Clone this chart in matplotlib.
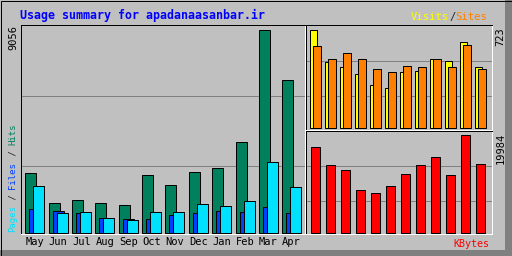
import matplotlib
matplotlib.use("Agg")
import matplotlib.pyplot as plt
from matplotlib.patches import Rectangle
import numpy as np

months = ["May", "Jun", "Jul", "Aug", "Sep", "Oct", "Nov", "Dec", "Jan", "Feb", "Mar", "Apr"]
hits = [2676, 1307, 1472, 1338, 1249, 2587, 2110, 2721, 2899, 4015, 9056, 6825]
files = [1039, 950, 861, 638, 593, 593, 772, 861, 950, 906, 1128, 861]
pages = [2065, 861, 906, 638, 549, 906, 906, 1262, 1173, 1396, 3136, 2021]
visits = [723, 480, 450, 398, 317, 295, 413, 420, 502, 494, 634, 450]
sites = [598, 509, 553, 509, 435, 413, 457, 443, 509, 450, 612, 435]
kbytes = [17401, 13866, 12643, 8565, 7953, 9584, 12031, 13866, 15362, 11827, 19984, 14070]

W, H = 512, 256
BG = "#c0c0c0"
C_HITS, C_FILES, C_PAGES = "#00805c", "#0040ff", "#00e0ff"
C_VISITS, C_SITES, C_KB = "#ffff00", "#ff8000", "#ff0000"
GRID = "#808080"
PX = 0.72  # one pixel in points
MONO = "DejaVu Sans Mono"

fig = plt.figure(figsize=(W / 100, H / 100), dpi=100, facecolor=BG)


def fx(x):
    return x / W


def fy(y):
    return 1 - y / H


def panel(x0, y0, x1, y1):
    ax = fig.add_axes([fx(x0), fy(y1), fx(x1) - fx(x0), (y1 - y0) / H])
    ax.set_facecolor(BG)
    ax.spines["left"].set_color("black")
    ax.spines["top"].set_color("black")
    ax.spines["right"].set_color("white")
    ax.spines["bottom"].set_color("white")
    for s in ax.spines.values():
        s.set_linewidth(PX)
    ax.tick_params(length=0, labelleft=False, labelbottom=False)
    return ax


def scale_y(ax, top, bottom, base, peak_px, peak_val, grid_px):
    # map pixel layout to data units
    s = peak_val / (base - peak_px)
    ax.set_ylim(-(bottom - base) * s, (base - top) * s)
    ax.set_yticks([(base - g) * s for g in grid_px])
    ax.yaxis.grid(True, color=GRID, lw=PX)
    ax.set_axisbelow(True)


def seg_text(x, y, parts, fs, vertical=False):
    # multi-coloured monospace label, one text per coloured piece
    cw = 0.602 * fs * 100 / 72
    pos = 0
    for sub, col in parts:
        if vertical:
            fig.text(fx(x), fy(y - pos * cw), sub, family=MONO, fontsize=fs, color=col,
                     rotation=90, rotation_mode="anchor", va="center", ha="left")
        else:
            fig.text(fx(x + pos * cw), fy(y), sub, family=MONO, fontsize=fs, color=col,
                     va="center", ha="left")
        pos += len(sub)


idx = np.arange(len(months))

# left panel: hits / files / pages
SP = 23.36
axl = panel(20.5, 24.5, 304.5, 233.5)
axl.set_xlim(-4.8 / SP, 284 / SP - 4.8 / SP)
bw = 11 / SP
kw = dict(align="edge", edgecolor="black", linewidth=PX)
axl.bar(idx, hits, bw, color=C_HITS, **kw)
axl.bar(idx + 4 / SP, files, bw, color=C_FILES, **kw)
axl.bar(idx + 8 / SP, pages, bw, color=C_PAGES, **kw)
scale_y(axl, 24.5, 233.5, 232.5, 29.5, max(hits), [95.5, 165.5])
axl.set_xticks(idx + 9.4 / SP)
axl.set_xticklabels(months, family=MONO, fontsize=7.5)
axl.tick_params(labelbottom=True, pad=2.5)

# top right: visits / sites
axv = panel(305.5, 24.5, 491.5, 129.5)
axv.set_xlim(-4.0 / 15, 186 / 15 - 4.0 / 15)
axv.bar(idx, visits, 7.5 / 15, color=C_VISITS, **kw)
axv.bar(idx + 3.5 / 15, sites, 8 / 15, color=C_SITES, **kw)
scale_y(axv, 24.5, 129.5, 127.5, 29.5, max(visits), [60.5, 95.5])

# bottom right: kbytes
axk = panel(305.5, 130.5, 491.5, 233.5)
axk.set_xlim(-4.0 / 15, 186 / 15 - 4.0 / 15)
axk.bar(idx + 1 / 15, kbytes, 9.5 / 15, color=C_KB, **kw)
scale_y(axk, 130.5, 233.5, 232.5, 134.5, max(kbytes), [165.5, 200.5])

# outer bevel
tr = fig.transFigure
fig.add_artist(Rectangle((fx(505), 0), fx(7), 1, transform=tr, color="#808080", lw=0))
fig.add_artist(Rectangle((0, 0), 1, 6 / H, transform=tr, color="#808080", lw=0))
fig.add_artist(Rectangle((fx(1), fy(2)), fx(504), 1 / H, transform=tr, color="white", lw=0))
fig.add_artist(Rectangle((fx(1), fy(250)), 1 / W, 248 / H, transform=tr, color="white", lw=0))
fig.add_artist(Rectangle((0.5 / W, 0.5 / H), 1 - 1 / W, 1 - 1 / H, transform=tr,
                         fill=False, edgecolor="black", lw=PX))

# texts
fig.text(fx(20), fy(15.5), "Usage summary for apadanaasanbar.ir", family=MONO,
         fontsize=8.4, fontweight="bold", color="#0000ff", va="center", ha="left")

seg_text(411, 17, [("Visits", C_VISITS), ("/", "#202020"), ("Sites", C_SITES)], 7.6)
seg_text(13, 232, [("Pages", C_PAGES), (" / ", "#202020"), ("Files", C_FILES),
                   (" / ", "#202020"), ("Hits", C_HITS)], 6.5, vertical=True)

fig.text(fx(13.5), fy(25.5), str(max(hits)), family=MONO, fontsize=7.5, color="black",
         rotation=90, va="top", ha="center")
fig.text(fx(500.5), fy(27.5), str(max(visits)), family=MONO, fontsize=7.5, color="black",
         rotation=90, va="top", ha="center")
fig.text(fx(500.5), fy(133), str(max(kbytes)), family=MONO, fontsize=7.5, color="black",
         rotation=90, va="top", ha="center")
fig.text(fx(489), fy(244), "KBytes", family=MONO, fontsize=7.2, color=C_KB,
         va="center", ha="right")

fig.savefig("out.png", dpi=100, facecolor=BG)
